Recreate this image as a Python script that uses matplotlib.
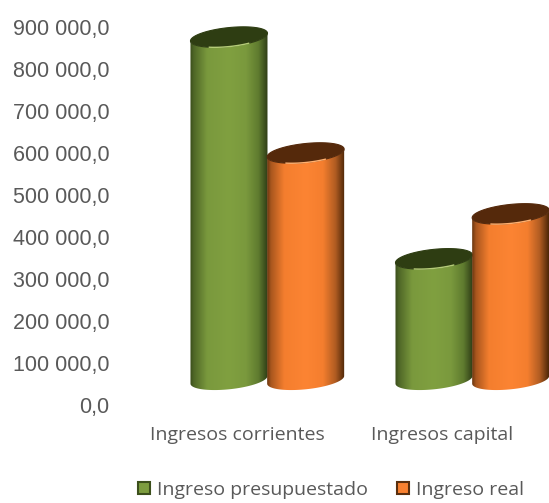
import numpy as np
import matplotlib.pyplot as plt
from matplotlib.colors import LinearSegmentedColormap
from matplotlib.patches import Patch, Polygon

categories = ["Ingresos corrientes", "Ingresos capital"]
presupuestado = [816000, 288000]
real = [540000, 395000]
yticks = [0, 100000, 200000, 300000, 400000, 500000, 600000, 700000, 800000, 900000]

# cylinder looks, pixels are turned into data units below
PX_X = 1 / 205
PX_Y = 100000 / 42
BASE = 60000
SEMI_A = 38.5
SEMI_B = 9.5
TILT = 0.1

green = [(0, "#3a4c1c"), (0.05, "#4f6727"), (0.22, "#7a993d"), (0.5, "#80a040"),
         (0.72, "#7a993d"), (0.88, "#5f7b2f"), (1, "#2e3c16")]
orange = [(0, "#6a360f"), (0.05, "#a8561e"), (0.22, "#f47e2e"), (0.5, "#fc8433"),
          (0.72, "#f47e2e"), (0.88, "#b05c22"), (1, "#4c2607")]
green_top = "#2e3d12"
orange_top = "#55290b"
green_edge = "#3c4f1c"
orange_edge = "#5a2f0e"


def fmt(v):
    return f"{v:,.1f}".replace(",", " ").replace(".", ",")


def arc(cx, cy, start, stop):
    t = np.linspace(start, stop, 80)
    x = SEMI_A * np.cos(t)
    y = SEMI_B * np.sin(t) + TILT * x
    return np.column_stack([cx + x * PX_X, cy + y * PX_Y])


def cylinder(ax, cx, value, colors, top_color, rim_color, zorder):
    top = BASE + value
    # front of the body: lower arc of the base, lower arc of the top going back
    outline = np.vstack([arc(cx, BASE, np.pi, 2 * np.pi), arc(cx, top, 2 * np.pi, np.pi)])
    body = Polygon(outline, closed=True, facecolor="none", edgecolor="none")
    ax.add_patch(body)
    cmap = LinearSegmentedColormap.from_list("cyl", colors)
    shade = np.linspace(0, 1, 256)[None, :]
    img = ax.imshow(
        shade,
        cmap=cmap,
        aspect="auto",
        extent=(outline[:, 0].min(), outline[:, 0].max(), BASE - 20 * PX_Y, top + 20 * PX_Y),
        zorder=zorder,
    )
    img.set_clip_path(body)

    cap = arc(cx, top, 0, 2 * np.pi)
    ax.add_patch(Polygon(cap, closed=True, facecolor=top_color, edgecolor=top_color, lw=0.8,
                         zorder=zorder + 0.1, clip_on=False))
    # bright line on the front rim
    rim = arc(cx, top, 1.33 * np.pi, 1.67 * np.pi)
    ax.plot(rim[:, 0], rim[:, 1], color=rim_color, lw=1.0, zorder=zorder + 0.2)


fig = plt.figure(figsize=(5.49, 5.03), dpi=100)
ax = fig.add_axes([115 / 549, (503 - 405) / 503, (549 - 115) / 549, (405 - 27) / 503])

for i in range(len(categories)):
    cylinder(ax, i - 0.19, presupuestado[i], green, green_top, "#b5cc78", 2 + i)
    cylinder(ax, i + 0.184, real[i], orange, orange_top, "#ffb070", 2.5 + i)

ax.set_xlim(-0.746, 1.371)
ax.set_ylim(0, 900000)
for side in ax.spines.values():
    side.set_visible(False)

ax.set_yticks(yticks, [fmt(v) for v in yticks], family="Liberation Sans", fontsize=15.5, color="#595959")
ax.set_xticks([-0.15, 0.85], categories, family="Open Sans", fontsize=14, color="#595959")
ax.tick_params(axis="both", length=0)
ax.tick_params(axis="y", pad=4)
ax.tick_params(axis="x", pad=15)

handles = [
    Patch(facecolor="#7d9d3f", edgecolor=green_edge, lw=1.5, label="Ingreso presupuestado"),
    Patch(facecolor="#f98130", edgecolor=orange_edge, lw=1.5, label="Ingreso real"),
]
fig.legend(
    handles=handles,
    loc="center",
    bbox_to_anchor=(331 / 549, (503 - 490) / 503),
    ncol=2,
    frameon=False,
    handlelength=0.6,
    handleheight=0.6,
    handletextpad=0.35,
    columnspacing=1.5,
    prop={"family": "Open Sans", "size": 14},
    labelcolor="#595959",
)

fig.savefig("out.png", dpi=100)
